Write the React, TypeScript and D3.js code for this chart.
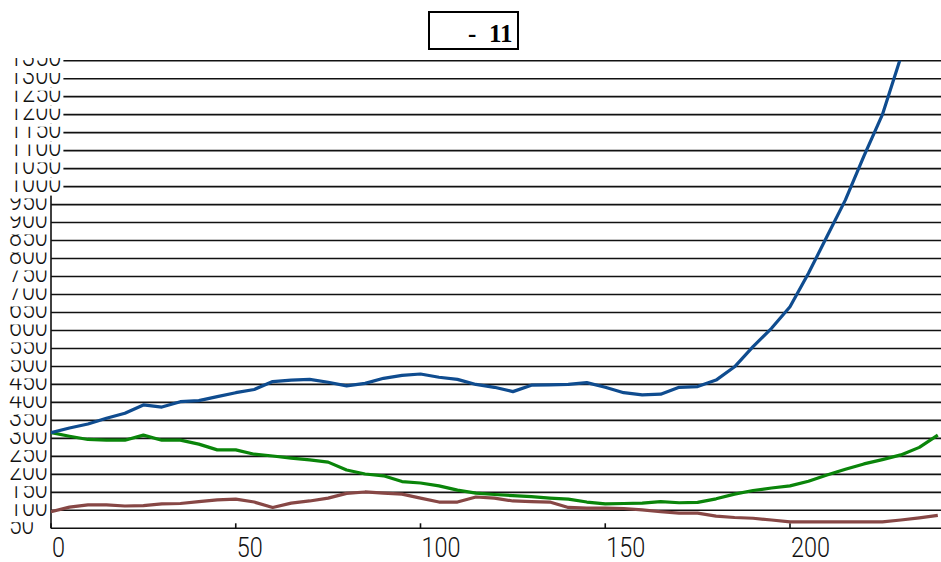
import { useEffect, useRef } from "react";
import * as d3 from "d3";

// sample positions along the x axis
const steps = [
  0, 5, 10, 15, 20, 25, 30, 35, 40, 45, 50, 55, 60, 65, 70, 75, 80, 85, 90, 95,
  100, 105, 110, 115, 120, 125, 130, 135, 140, 145, 150, 155, 160, 165, 170,
  175, 180, 185, 190, 195, 200, 205, 210, 215, 220, 225, 230, 235, 240,
];

const blueSeries = [
  316, 329, 340, 356, 370, 393, 387, 402, 405, 416, 427, 436, 458, 462, 464,
  456, 446, 453, 467, 475, 479, 470, 464, 450, 442, 430, 448, 449, 450, 455,
  442, 427, 421, 423, 442, 444, 462, 499, 555, 606, 666, 759, 861, 963, 1085,
  1200, 1360, 1490, 1630,
];

const greenSeries = [
  316, 306, 297, 295, 295, 309, 295, 295, 284, 268, 268, 256, 251, 245, 240,
  234, 212, 201, 196, 180, 176, 168, 156, 148, 144, 141, 138, 134, 131, 123,
  118, 119, 120, 124, 121, 122, 132, 145, 155, 162, 168, 181, 198, 214, 229,
  241, 254, 275, 309,
];

const brownSeries = [
  96, 109, 115, 115, 112, 113, 118, 119, 124, 129, 131, 123, 108, 120, 126, 134,
  147, 151, 148, 145, 134, 123, 123, 137, 134, 126, 124, 123, 108, 106, 106,
  105, 101, 96, 92, 92, 84, 80, 78, 73, 68, 68, 68, 68, 68, 68, 73, 79, 86,
];

const yTicks = d3.range(50, 1351, 50);
const xTicks = [0, 50, 100, 150, 200];
const titleText = "- 11";

const App = () => {
  const svgRef = useRef<SVGSVGElement | null>(null);

  useEffect(() => {
    const width = 941;
    const height = 562;
    const left = 51;
    const top = 60.7;
    const bottom = 528.3;
    const labelFont = "Roboto, 'Liberation Sans Narrow', sans-serif";

    const svg = d3.select(svgRef.current);
    svg.selectAll("*").remove();
    svg.attr("width", width).attr("height", height);

    svg.append("rect").attr("width", width).attr("height", height).attr("fill", "#fff");

    const x = d3.scaleLinear().domain([0, 200]).range([left, 790]);
    const y = d3.scaleLinear().domain([50, 1350]).range([bottom, top]);

    // clip for plot area
    const defs = svg.append("defs");
    defs
      .append("clipPath")
      .attr("id", "plot-clip")
      .append("rect")
      .attr("x", left)
      .attr("y", top)
      .attr("width", width - left)
      .attr("height", bottom - top);

    // horizontal grid lines
    svg
      .append("g")
      .selectAll("line")
      .data(yTicks)
      .enter()
      .append("line")
      .attr("x1", left)
      .attr("x2", width)
      .attr("y1", (d) => y(d))
      .attr("y2", (d) => y(d))
      .attr("stroke", "#111")
      .attr("stroke-width", 1.6);

    // vertical axis line
    svg
      .append("line")
      .attr("x1", left)
      .attr("x2", left)
      .attr("y1", top)
      .attr("y2", bottom)
      .attr("stroke", "#111")
      .attr("stroke-width", 1.6);

    // x axis ticks
    svg
      .append("g")
      .selectAll("line")
      .data(xTicks)
      .enter()
      .append("line")
      .attr("x1", (d) => x(d))
      .attr("x2", (d) => x(d))
      .attr("y1", bottom - 5)
      .attr("y2", bottom)
      .attr("stroke", "#111")
      .attr("stroke-width", 1.6);

    // x labels
    svg
      .append("g")
      .selectAll("text")
      .data(xTicks)
      .enter()
      .append("text")
      .attr("x", (d) => x(d) + 1)
      .attr("y", 557)
      .attr("textLength", (d) => String(d).length * 13)
      .attr("lengthAdjust", "spacingAndGlyphs")
      .style("font-family", labelFont)
      .style("font-weight", 300)
      .style("font-size", "28px")
      .style("fill", "#111")
      .text((d) => d);

    // series lines
    const series = [
      { values: brownSeries, color: "#874745" },
      { values: greenSeries, color: "#0a850a" },
      { values: blueSeries, color: "#0f4c8f" },
    ];
    const line = d3
      .line<number>()
      .x((_, i) => x(steps[i]))
      .y((d) => y(d));
    const lines = svg.append("g").attr("clip-path", "url(#plot-clip)");
    series.forEach((s) => {
      lines
        .append("path")
        .datum(s.values)
        .attr("d", line)
        .attr("fill", "none")
        .attr("stroke", s.color)
        .attr("stroke-width", 3.2)
        .attr("stroke-linejoin", "round");
    });

    // y labels: only the lower half of each glyph shows
    const labels = svg.append("g");
    yTicks.forEach((v, i) => {
      const yy = y(v);
      const w = String(v).length * 13.6;
      const clipTop = Math.max(yy - 6, 58);
      defs
        .append("clipPath")
        .attr("id", `ylab-${i}`)
        .append("rect")
        .attr("x", 0)
        .attr("y", clipTop)
        .attr("width", 80)
        .attr("height", yy + 6 - clipTop);
      labels
        .append("rect")
        .attr("x", 8)
        .attr("y", Math.max(yy - 9, 55))
        .attr("width", w + 1)
        .attr("height", 18)
        .attr("fill", String(v).length > 3 ? "#fff" : "none");
      labels
        .append("text")
        .attr("x", 9)
        .attr("y", yy + 5.5)
        .attr("textLength", w - 2)
        .attr("lengthAdjust", "spacingAndGlyphs")
        .attr("clip-path", `url(#ylab-${i})`)
        .style("font-family", labelFont)
        .style("font-weight", 300)
        .style("font-size", "28px")
        .style("fill", "#111")
        .text(v);
    });

    // title box
    svg
      .append("rect")
      .attr("x", 429)
      .attr("y", 12)
      .attr("width", 89)
      .attr("height", 37)
      .attr("fill", "#fff")
      .attr("stroke", "#000")
      .attr("stroke-width", 2);
    const [dash, num] = titleText.split(" ");
    const title = svg
      .append("text")
      .attr("x", 468)
      .attr("y", 42)
      .style("font-family", "'Liberation Serif', serif")
      .style("font-weight", "bold")
      .style("font-size", "25px")
      .style("fill", "#000");
    title.append("tspan").text(dash);
    title.append("tspan").attr("x", 489).text(num);
  }, []);

  return (
    <div style={{ position: "fixed", left: 0, top: 0 }}>
      <svg ref={svgRef}></svg>
    </div>
  );
};

export default App;
